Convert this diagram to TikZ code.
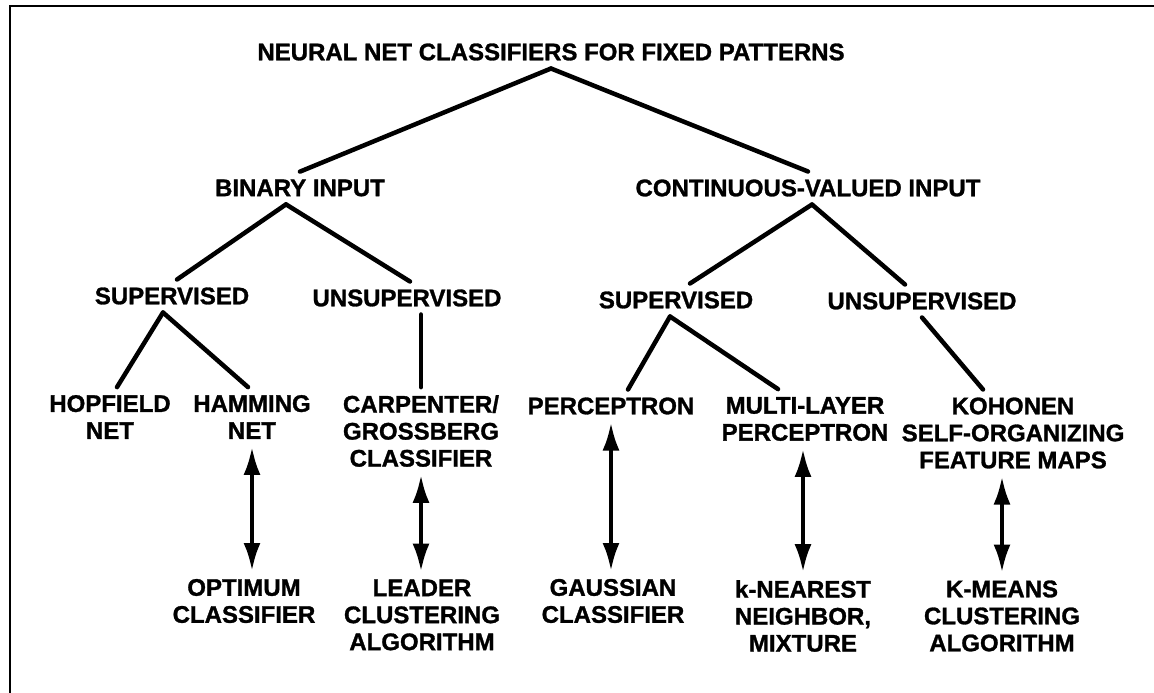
\documentclass[tikz,border=0pt]{standalone}
\usepackage{fontspec}
\setmainfont{Liberation Sans}[BoldFeatures={FakeBold=1.2}]
\usetikzlibrary{arrows.meta,positioning,calc}

\begin{document}
\begin{tikzpicture}[
  x=1pt,y=-1pt,
  lbl/.style={align=center, inner sep=0pt, outer sep=8pt, font=\fontsize{24}{27}\selectfont\bfseries},
  branch/.style={line width=4.5pt, line cap=round},
  twoway/.style={{Latex[length=28pt,width=17pt]}-{Latex[length=28pt,width=17pt]}, line width=4pt}
]
\useasboundingbox (0,0) rectangle (1154,693);
\draw[line width=2.5pt] (10,693) -- (10,6) -- (1154,6);

% top levels
\node[lbl] (title) at (551,52) {NEURAL NET CLASSIFIERS FOR FIXED PATTERNS};
\node[lbl] (binary) at (300,188) {BINARY INPUT};
\node[lbl] (cont) at (808,188) {CONTINUOUS-VALUED INPUT};
\node[lbl] (sup1) at (172,296) {SUPERVISED};
\node[lbl] (unsup1) at (407,298) {UNSUPERVISED};
\node[lbl] (sup2) at (676,300) {SUPERVISED};
\node[lbl] (unsup2) at (922,301) {UNSUPERVISED};

% neural nets
\node[lbl] (hop) at (110,417) {HOPFIELD\\NET};
\node[lbl] (ham) at (252,417) {HAMMING\\NET};
\node[lbl] (carp) at (421,431) {CARPENTER/\\GROSSBERG\\CLASSIFIER};
\node[lbl] (perc) at (611,406) {PERCEPTRON};
\node[lbl] (multi) at (805,419) {MULTI-LAYER\\PERCEPTRON};
\node[lbl] (koh) at (1013,433) {KOHONEN\\SELF-ORGANIZING\\FEATURE MAPS};

% classical counterparts
\node[lbl] (opt) at (244,601) {OPTIMUM\\CLASSIFIER};
\node[lbl] (leader) at (422,615) {LEADER\\CLUSTERING\\ALGORITHM};
\node[lbl] (gauss) at (613,601) {GAUSSIAN\\CLASSIFIER};
\node[lbl] (knn) at (803,616) {k-NEAREST\\NEIGHBOR,\\MIXTURE};
\node[lbl] (kmeans) at (1002,616) {K-MEANS\\CLUSTERING\\ALGORITHM};

% tree
\draw[branch] (title.south) -- (binary.north);
\draw[branch] (title.south) -- (cont.north);
\draw[branch] ([xshift=-14pt]binary.south) -- ([xshift=5pt]sup1.north);
\draw[branch] ([xshift=-14pt]binary.south) -- ([xshift=3pt]unsup1.north);
\draw[branch] ([xshift=4pt]cont.south) -- ([xshift=14pt]sup2.north);
\draw[branch] ([xshift=4pt]cont.south) -- ([xshift=-17pt]unsup2.north);
\draw[branch] ([xshift=-9pt]sup1.south) -- ([xshift=7pt]hop.north);
\draw[branch] ([xshift=-9pt]sup1.south) -- ([xshift=-4pt]ham.north);
\draw[branch] (unsup1.south -| carp.north) -- (carp.north);
\draw[branch] ([xshift=-6pt]sup2.south) -- ([xshift=17pt]perc.north);
\draw[branch] ([xshift=-6pt]sup2.south) -- ([xshift=-27pt]multi.north);
\draw[branch] (unsup2.south) -- ([xshift=-30pt]koh.north);

% equivalences
\draw[twoway] (ham.south) -- (ham.south |- opt.north);
\draw[twoway] (carp.south) -- (carp.south |- leader.north);
\draw[twoway] (perc.south) -- (perc.south |- gauss.north);
\draw[twoway] (multi.south -| knn.north) -- (knn.north);
\draw[twoway] (koh.south -| kmeans.north) -- (kmeans.north);
\end{tikzpicture}
\end{document}
